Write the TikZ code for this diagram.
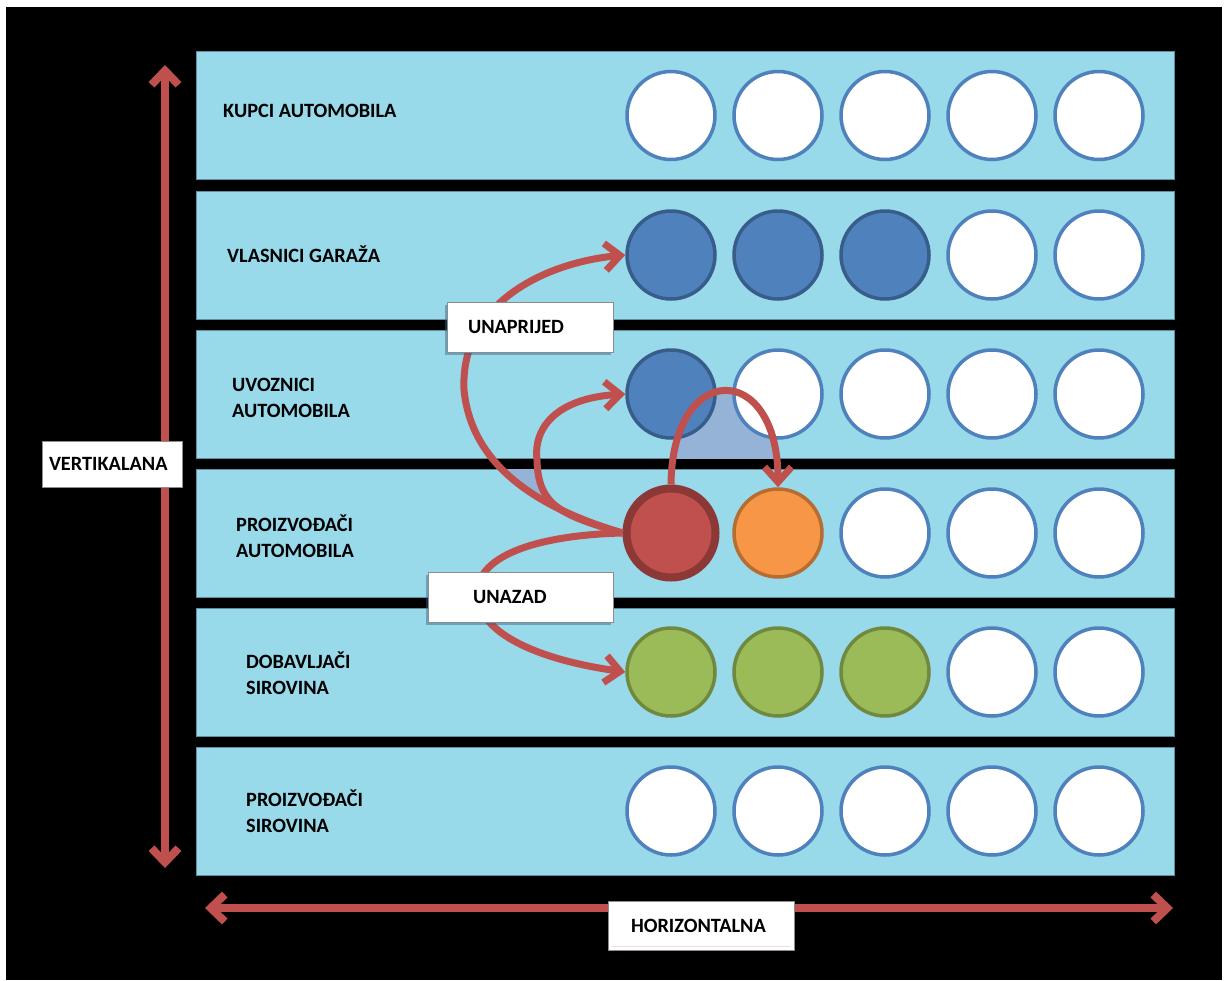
\documentclass[tikz,border=0pt]{standalone}
\usepackage{fontspec}
\setmainfont{Carlito}
\usetikzlibrary{arrows.meta,shadows}
\definecolor{bandc}{HTML}{98D9EA}
\definecolor{bandedge}{HTML}{5E8FA3}
\definecolor{cblue}{HTML}{4F81BD}
\definecolor{cbluedark}{HTML}{385D8A}
\definecolor{cred}{HTML}{C0504D}
\definecolor{creddark}{HTML}{8C3836}
\definecolor{corange}{HTML}{F79646}
\definecolor{corangedark}{HTML}{B66D31}
\definecolor{cgreen}{HTML}{9BBB59}
\definecolor{cgreendark}{HTML}{71893F}
\definecolor{shadec}{HTML}{95B3D7}
\definecolor{tagedge}{HTML}{8C8C8C}
\newcommand\twoline[2]{\vtop{\baselineskip=25.5pt\hbox{#1}\hbox{#2}}}
\begin{document}
\begin{tikzpicture}[x=1pt,y=-1pt,
  band/.style={fill=bandc,draw=bandedge,line width=0.8pt},
  wc/.style={circle,minimum size=88pt,inner sep=0pt,fill=white,draw=cblue,line width=3.5pt},
  bc/.style={wc,fill=cblue,draw=cbluedark},
  rc/.style={wc,fill=cred,draw=creddark,line width=8pt,minimum size=89pt},
  oc/.style={wc,fill=corange,draw=corangedark},
  gc/.style={wc,fill=cgreen,draw=cgreendark},
  flow/.style={draw=cred,line width=7pt,-{Straight Barb[length=15pt,width=27pt]}},
  axis/.style={draw=cred,line width=8pt,{Straight Barb[length=14pt,width=27pt]}-{Straight Barb[length=14pt,width=27pt]}},
  lbl/.style={font=\bfseries\fontsize{20.3}{25.5}\selectfont,anchor=base west,inner sep=0pt},
  tag/.style={draw=tagedge,fill=white,line width=0.8pt,font=\bfseries\fontsize{20.3}{25.5}\selectfont,
    align=left,text height=13pt,text depth=0pt,inner ysep=0pt},
  tagshadow/.style={drop shadow={shadow xshift=-2pt,shadow yshift=-3pt,fill=cbluedark,opacity=.45}}
]
% background
\fill[white] (0,0) rectangle (1226,980);
\fill[black] (6,7) rectangle (1222,980);

% bands
\foreach \t in {51,191,330,469,608,747}
  \path[band] (196,\t) rectangle (1174,\t+128);

% shaded regions
\begin{scope}
  \clip (600,330) rectangle (800,458);
  \fill[shadec] (672,488) .. controls (672,360) and (778,360) .. (778,489) -- cycle;
\end{scope}
\fill[shadec] (496,469) -- (541,469) -- (542,497) -- cycle;

% row labels
\node[lbl] (l1) at (223,117.5) {KUPCI AUTOMOBILA};
\node[lbl] (l2) at (227,262.5) {VLASNICI GARAŽA};
\node[lbl] (l3) at (232,391.5) {\twoline{UVOZNICI}{AUTOMOBILA}};
\node[lbl] (l4) at (236,531.5) {\twoline{PROIZVOĐAČI}{AUTOMOBILA}};
\node[lbl] (l5) at (246,668.5) {\twoline{DOBAVLJAČI}{SIROVINA}};
\node[lbl] (l6) at (246,806.5) {\twoline{PROIZVOĐAČI}{SIROVINA}};

% circles
% row 1
\node[wc] (r1c1) at (671,115.5) {};
\node[wc] (r1c2) at (778,115.5) {};
\node[wc] (r1c3) at (885,115.5) {};
\node[wc] (r1c4) at (992,115.5) {};
\node[wc] (r1c5) at (1099,115.5) {};
% row 2
\node[bc] (r2c1) at (671,255) {};
\node[bc] (r2c2) at (778,255) {};
\node[bc] (r2c3) at (885,255) {};
\node[wc] (r2c4) at (992,255) {};
\node[wc] (r2c5) at (1099,255) {};
% row 3
\node[bc] (r3c1) at (671,394) {};
\node[wc] (r3c2) at (778,394) {};
\node[wc] (r3c3) at (885,394) {};
\node[wc] (r3c4) at (992,394) {};
\node[wc] (r3c5) at (1099,394) {};
% row 4
\node[rc] (r4c1) at (671,533) {};
\node[oc] (r4c2) at (778,533) {};
\node[wc] (r4c3) at (885,533) {};
\node[wc] (r4c4) at (992,533) {};
\node[wc] (r4c5) at (1099,533) {};
% row 5
\node[gc] (r5c1) at (671,672) {};
\node[gc] (r5c2) at (778,672) {};
\node[gc] (r5c3) at (885,672) {};
\node[wc] (r5c4) at (992,672) {};
\node[wc] (r5c5) at (1099,672) {};
% row 6
\node[wc] (r6c1) at (671,811) {};
\node[wc] (r6c2) at (778,811) {};
\node[wc] (r6c3) at (885,811) {};
\node[wc] (r6c4) at (992,811) {};
\node[wc] (r6c5) at (1099,811) {};

% flow arrows
\draw[flow] (r4c1.west) .. controls (545,510) and (472,470) .. (464,390)
  .. controls (460,300) and (550,262) .. (r2c1.west);
\draw[flow] (r4c1.west) .. controls (560,515) and (538,505) .. (537,460)
  .. controls (533,425) and (560,398) .. (r3c1.west);
\draw[flow] (r4c1.west) .. controls (540,535) and (470,555) .. (478,600)
  .. controls (484,635) and (540,660) .. (r5c1.west);
\draw[flow] (r4c1.north) .. controls (672,360) and (778,360) .. (r4c2.north);

% axes
\coordinate (vtop) at (165,65);
\coordinate (vbot) at (165,868);
\coordinate (hleft) at (205,908);
\coordinate (hright) at (1173,908);
\draw[axis] (vbot) -- (vtop);
\draw[axis] (hleft) -- (hright);

% tags
\node[tag,tagshadow,minimum width=166pt,minimum height=50pt,inner xsep=21pt,text width=124pt] (unap) at (530,327) {UNAPRIJED};
\node[tag,tagshadow,minimum width=185pt,minimum height=50pt,inner xsep=45pt,text width=95pt] (unaz) at (520.5,597) {UNAZAD};
\node[tag,minimum width=140pt,minimum height=46pt,inner xsep=7pt,text width=126pt] (vert) at (112,464) {VERTIKALANA};
\node[tag,minimum width=186pt,minimum height=49pt,inner xsep=23pt,text width=140pt] (hor) at (701,925.5) {HORIZONTALNA};
\draw[draw={rgb,255:red,242;green,220;blue,219},line width=1.2pt] ([xshift=4pt,yshift=4pt]hor.south west) -- ([xshift=-4pt,yshift=4pt]hor.south east);
\end{tikzpicture}
\end{document}
